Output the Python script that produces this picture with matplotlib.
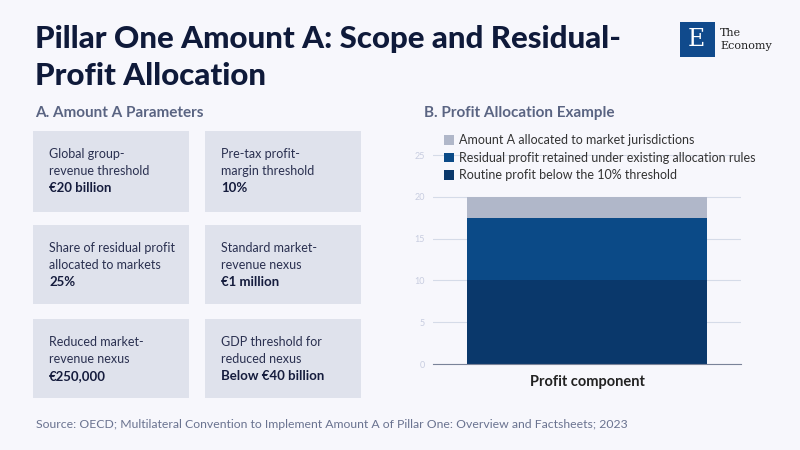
import matplotlib.pyplot as plt
from matplotlib.patches import Rectangle

plt.rcParams['font.family'] = ['Lato', 'DejaVu Sans']

BG = "#f7f7fc"
NAVY = "#0f1a3a"
SUB = "#5a6482"

title_lines = ["Pillar One Amount A: Scope and Residual-", "Profit Allocation"]
panel_a = "A. Amount A Parameters"
panel_b = "B. Profit Allocation Example"
source = "Source: OECD; Multilateral Convention to Implement Amount A of Pillar One: Overview and Factsheets; 2023"

# panel A cards
card_labels = [
    ["Global group-", "revenue threshold"],
    ["Pre-tax profit-", "margin threshold"],
    ["Share of residual profit", "allocated to markets"],
    ["Standard market-", "revenue nexus"],
    ["Reduced market-", "revenue nexus"],
    ["GDP threshold for", "reduced nexus"],
]
card_values = ["€20 billion", "10%", "25%", "€1 million", "€250,000", "Below €40 billion"]

# panel B stacked bar
category = ["Profit component"]
routine = [10.0]
residual_kept = [7.5]
amount_a = [2.5]
series_names = [
    "Routine profit below the 10% threshold",
    "Residual profit retained under existing allocation rules",
    "Amount A allocated to market jurisdictions",
]
series_colors = ["#0a386b", "#0b4a87", "#b0b7c9"]

W, H = 800, 450
fig = plt.figure(figsize=(8, 4.5), dpi=100)
fig.patch.set_facecolor(BG)


def fx(x):
    return x / W


def fy(y):
    return 1 - y / H


for i, line in enumerate(title_lines):
    fig.text(fx(35), fy(48 + i * 37), line, fontsize=22.5, fontweight='black', color=NAVY,
             va='baseline', ha='left')
fig.text(fx(35), fy(117), panel_a, fontsize=11, fontweight='bold', color=SUB, va='baseline')
fig.text(fx(424), fy(117), panel_b, fontsize=11, fontweight='bold', color=SUB, va='baseline')
fig.text(fx(36), fy(425), source, fontsize=8.8, color="#6a7390", va='center')

# logo
fig.patches.append(Rectangle((fx(680), fy(57)), fx(35), 35 / H, transform=fig.transFigure,
                             facecolor="#104a8c", edgecolor='none'))
fig.text(fx(696), fy(40), "E", fontsize=17, color='white', family='DejaVu Serif',
         ha='center', va='center')
fig.text(fx(720), fy(33), "The", fontsize=8, color="#222222", family='DejaVu Serif', va='center')
fig.text(fx(720), fy(46), "Economy", fontsize=8, color="#222222", family='DejaVu Serif', va='center')

# cards
col_x = [33, 205]
row_y = [131, 225, 319]
row_h = [81, 79, 79]
card_w = 156
for i, (lab, val) in enumerate(zip(card_labels, card_values)):
    r, c = divmod(i, 2)
    x0, y0 = col_x[c], row_y[r]
    fig.patches.append(Rectangle((fx(x0), fy(y0 + row_h[r])), card_w / W, row_h[r] / H,
                                 transform=fig.transFigure, facecolor="#dfe2ec", edgecolor='none'))
    top = y0 + 23
    for j, line in enumerate(lab):
        fig.text(fx(x0 + 16), fy(top + j * 17), line, fontsize=9, color="#2a3050", va='center')
    fig.text(fx(x0 + 16), fy(top + 34), val, fontsize=9.5, fontweight='bold',
             color="#151c3d", va='center')

# stacked bar
ymax = 26.5
ax_top = 364 - ymax * (209 / 25)
ax = fig.add_axes([fx(433), fy(364), 308 / W, (364 - ax_top) / H])
ax.set_facecolor(BG)
bottom2 = [a + b for a, b in zip(routine, residual_kept)]
ax.bar(category, routine, width=0.78, color=series_colors[0], label=series_names[0], zorder=2)
ax.bar(category, residual_kept, bottom=routine, width=0.78, color=series_colors[1],
       label=series_names[1], zorder=2)
ax.bar(category, amount_a, bottom=bottom2, width=0.78, color=series_colors[2],
       label=series_names[2], zorder=2)
ax.set_xlim(-0.5, 0.5)
ax.set_ylim(0, ymax)
ax.set_yticks([0, 5, 10, 15, 20, 25])
ax.grid(axis='y', color="#d5dbe8", linewidth=0.8, zorder=0)
for s in ['top', 'right', 'left']:
    ax.spines[s].set_visible(False)
ax.spines['bottom'].set_color("#7a8399")
ax.tick_params(axis='y', length=0, labelsize=6.5, labelcolor="#c8cde0", pad=6)
ax.tick_params(axis='x', length=0, labelsize=10.5, labelcolor="#222222", pad=8)
for t in ax.get_xticklabels():
    t.set_fontweight('bold')

handles, labels = ax.get_legend_handles_labels()
leg = ax.legend(handles[::-1], labels[::-1], loc='upper left', bbox_to_anchor=(0.02, 1.06),
                frameon=False, fontsize=9, handlelength=0.8, handleheight=0.8,
                handletextpad=0.4, labelspacing=0.45, borderaxespad=0)
for t in leg.get_texts():
    t.set_color("#333333")

fig.savefig("out.png", dpi=100, facecolor=BG)
